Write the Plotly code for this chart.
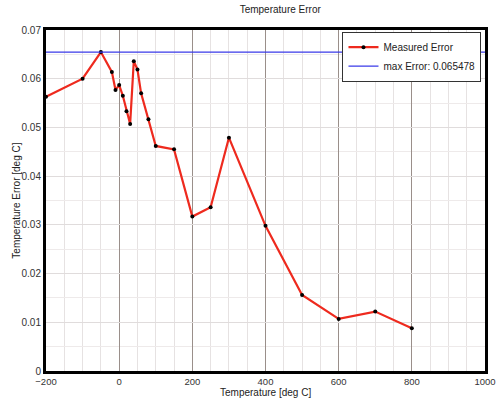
import plotly.graph_objects as go

temps = [-200, -100, -50, -20, -10, 0, 10, 20, 30, 40, 50, 60, 80, 100, 150,
         200, 250, 300, 400, 500, 600, 700, 800]
errors = [0.0563, 0.0600, 0.065478, 0.0614, 0.0577, 0.0587, 0.0565, 0.0533, 0.0507,
          0.0636, 0.0619, 0.0570, 0.0517, 0.0462, 0.0455, 0.0317, 0.0336, 0.0479,
          0.0298, 0.0156, 0.0107, 0.0122, 0.0088]
max_err = 0.065478
x_range = [-200, 1000]
y_range = [0, 0.07]

fig = go.Figure()
fig.add_trace(go.Scatter(
    x=temps, y=errors, mode="lines+markers", name="Measured Error",
    line=dict(color="#ee2a1e", width=2.2),
    marker=dict(color="black", size=4),
))
fig.add_trace(go.Scatter(
    x=x_range, y=[max_err, max_err], mode="lines",
    name="max Error: %g" % max_err,
    line=dict(color="#3a3ae8", width=1.2),
))

font = dict(family="Liberation Sans, Arial, sans-serif", size=10, color="#333333")
fig.update_layout(
    width=496, height=399,
    margin=dict(l=46, r=11, t=30, b=28),
    paper_bgcolor="white", plot_bgcolor="white",
    font=font,
    title=dict(text="Temperature Error", x=0.565, xanchor="center", y=0.985, yanchor="top",
               font=dict(size=10, color="#222222")),
    legend=dict(x=0.992, y=0.995, xanchor="right", yanchor="top",
                bgcolor="white", bordercolor="#333333", borderwidth=1,
                font=dict(size=10, color="#222222"), tracegroupgap=0,
                itemwidth=30),
    showlegend=True,
    annotations=[
        dict(text="Temperature [deg C]", xref="paper", yref="paper", x=0.5, y=-0.062,
             xanchor="center", yanchor="middle", showarrow=False,
             font=dict(size=10, color="#222222")),
        dict(text="Temperature Error [deg C]", xref="paper", yref="paper", x=-0.068, y=0.5,
             xanchor="center", yanchor="middle", showarrow=False, textangle=-90,
             font=dict(size=10, color="#222222")),
    ],
)
fig.update_xaxes(
    range=x_range, dtick=200, tick0=-200, automargin=False, ticklabeloverflow="allow",
    showline=True, linewidth=3, linecolor="black", mirror=True,
    showgrid=True, gridcolor="#9a8f8a", gridwidth=1,
    minor=dict(dtick=50, showgrid=True, gridcolor="#e6e2e2", gridwidth=1),
    zeroline=False, ticks="", tickfont=dict(size=9.5),
)
fig.update_yaxes(
    range=y_range, dtick=0.01, automargin=False, ticklabeloverflow="allow",
    showline=True, linewidth=3, linecolor="black", mirror=True,
    showgrid=True, gridcolor="#e0dcdc", gridwidth=1,
    minor=dict(dtick=0.005, showgrid=True, gridcolor="#eeeaea", gridwidth=1),
    zeroline=False, ticks="",
)
fig.write_html("out.html")
